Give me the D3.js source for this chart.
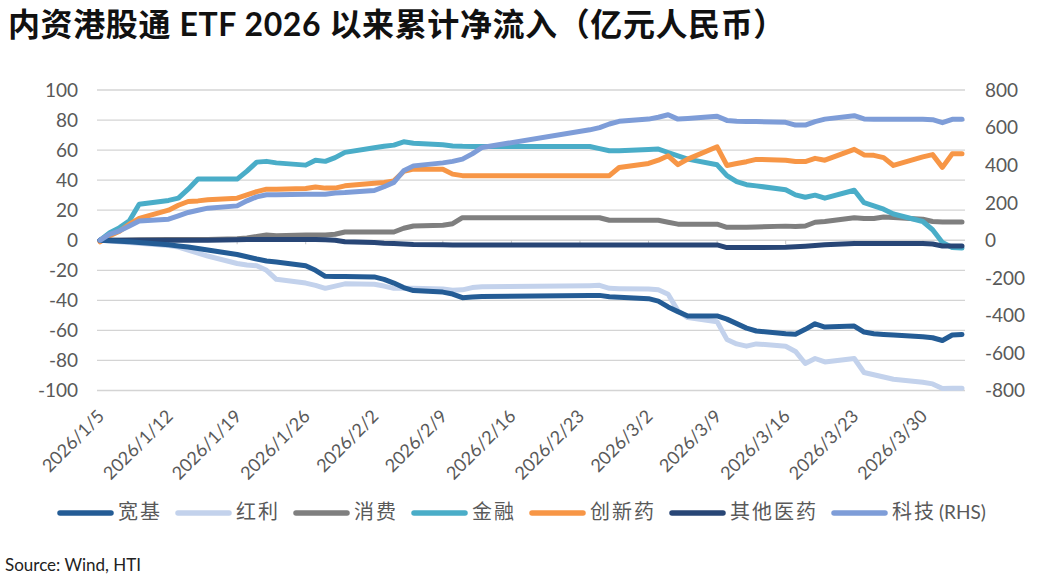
<!DOCTYPE html>
<html>
<head>
<meta charset="utf-8">
<script src="https://cdn.jsdelivr.net/npm/d3@7"></script>
<style>
body { margin: 0; background: #fff; }
text { font-family: Lato, "Noto Sans CJK SC", sans-serif; }
</style>
</head>
<body>
<script>
// trading days (mainland), 2026
var dates = [
  "2026-01-05","2026-01-06","2026-01-07","2026-01-08","2026-01-09",
  "2026-01-12","2026-01-13","2026-01-14","2026-01-15","2026-01-16",
  "2026-01-19","2026-01-20","2026-01-21","2026-01-22","2026-01-23",
  "2026-01-26","2026-01-27","2026-01-28","2026-01-29","2026-01-30",
  "2026-02-02","2026-02-03","2026-02-04","2026-02-05","2026-02-06",
  "2026-02-09","2026-02-10","2026-02-11","2026-02-12","2026-02-13",
  "2026-02-24","2026-02-25","2026-02-26","2026-02-27",
  "2026-03-02","2026-03-03","2026-03-04","2026-03-05","2026-03-06",
  "2026-03-09","2026-03-10","2026-03-11","2026-03-12","2026-03-13",
  "2026-03-16","2026-03-17","2026-03-18","2026-03-19","2026-03-20",
  "2026-03-23","2026-03-24","2026-03-25","2026-03-26","2026-03-27",
  "2026-03-30","2026-03-31","2026-04-01","2026-04-02","2026-04-03"
];

var kuanji = [0,-0.3,-0.7,-1,-1.5, -3,-3.8,-4.5,-5.5,-6.5, -9.5,-11,-12.5,-13.8,-14.5, -17,-20,-24,-24.2,-24.2,
  -24.4,-26,-28.5,-31.5,-33.5, -34.5,-35.8,-38.2,-37.8,-37.5, -36.7,-36.7,-37.6,-38,
  -38.9,-40.5,-44.4,-47.5,-50.4, -50.4,-52.5,-55.5,-58.5,-60.4, -62.2,-62.5,-59.3,-55.6,-57.8,
  -57.1,-61.1,-62.2,-62.7,-63.1, -64.2,-64.9,-66.7,-63.1,-62.7];

var hongli = [0,-0.5,-1,-1.5,-2, -3.5,-4.5,-6.5,-8.5,-10.5, -15.5,-16.5,-17,-20,-26, -28.5,-30,-32,-30.5,-29,
  -29.3,-30.5,-32,-32,-32, -32.5,-33.3,-33,-31.5,-30.9, -30.2,-30,-32,-32.2,
  -32.4,-33,-36,-47,-51.5, -54.2,-66,-69,-70.5,-69, -70.5,-74,-82,-78.7,-81,
  -78.7,-88,-89.5,-91,-92.5, -94.5,-95.6,-98.7,-98.5,-98.5];

var xiaofei = [0,0,0,0.2,0.3, 0.5,0.5,0.5,0.5,0.5, 1,1.5,2.5,3.5,3, 3.5,3.5,3.5,4,5.5,
  5.5,5.5,5.5,8,9.5, 10,11,15,15,15, 15,15,13.3,13.3,
  13.3,13.3,12,10.7,10.7, 10.7,8.6,8.6,8.6,8.8, 9.4,9.1,9.5,12,12.5,
  15,14.5,14.5,15.5,15.2, 14,12.5,12.2,12.2,12.2];

var jinrong = [0,5,8.4,13,24, 26.5,28,34,40.7,40.7, 40.7,46,52,52.5,51.5, 50,53.3,52.5,55,58.5,
  61.5,62.5,63.3,65.5,64.5, 63.5,62.8,62.5,62.4,62.4, 62.4,61,59.6,59.6,
  60.4,60.7,58.4,56.2,54, 50.2,43,39,37,36.2, 33.6,30.2,28.6,30,28,
  33.3,25,22.9,20.7,17.5, 12.5,7,-1.5,-4.8,-5.2];

var chuangxin = [-1,3,6,10.7,14.5, 20,23.3,25.8,26.2,26.9, 28,30.2,32.4,34,34, 34.4,35.5,34.7,34.7,36.2,
  38,38.5,39.5,45.8,47.3, 47.3,44,43,43,43, 43,43,43,48.4,
  51.1,53.3,56.2,50.3,54, 62.2,49.8,51.1,52.3,53.8, 53.3,52.4,52.4,54.5,53.3,
  60.5,56.8,56.5,55,49.8, 55.5,57,48.5,57.5,57.5];

var qita = [0,0,0,0,0, 0,0,0,0,0, 0.3,0.5,0.5,0.5,0.5, 0.5,0.5,0.3,0,-1,
  -1.5,-2,-2.2,-2.5,-2.8, -3,-3.1,-3.1,-3.1,-3.1, -3.1,-3.1,-3.1,-3.1,
  -3.1,-3.1,-3.1,-3.1,-3.1, -3.1,-4.9,-4.9,-4.9,-4.9, -4.7,-4.4,-4,-3.5,-3,
  -2.2,-2.2,-2.2,-2.2,-2.2, -2.2,-2.5,-3.8,-3.8,-3.8];

// RHS series
var keji = [0,32,50,76,103, 112,130,148,160,171, 183,210,231,242,242, 245,245,245,252,254,
  265,285,308,370,396, 412,420,432,460,494, 588,600,619,633,
  645,655,668,645,648, 660,638,634,632,632, 628,613,613,632,645,
  663,646,644,644,644, 644,642,626,644,644];

var seriesNames = ["宽基","红利","消费","金融","创新药","其他医药","科技"];
var seriesSuffix = ["","","","","","","(RHS)"];
var seriesColors = ["#245c95","#c3d2ec","#7f7f7f","#4aadc8","#f79646","#284676","#7e9dd8"];
var seriesValues = [kuanji, hongli, xiaofei, jinrong, chuangxin, qita, keji];
var seriesRight = [false,false,false,false,false,false,true];
// draw order (last on top)
var drawOrder = [1, 2, 3, 4, 5, 0, 6];

var leftTicks = [-100,-80,-60,-40,-20,0,20,40,60,80,100];
var rightTicks = [-800,-600,-400,-200,0,200,400,600,800];
var xTickStart = "2026-01-05", xTickEnd = "2026-03-30", xTickStepDays = 7;

var titleText = "内资港股通 ETF 2026 以来累计净流入（亿元人民币）";
var sourceText = "Source: Wind, HTI";

var width = 1038, height = 584;
var parse = d3.timeParse("%Y-%m-%d");
var fmt = d3.timeFormat("%Y/%-m/%-d");

var svg = d3.select("body").append("svg")
    .attr("width", width)
    .attr("height", height)
    .style("background", "#fff");

// title
svg.append("text")
    .attr("x", 8)
    .attr("y", 36)
    .attr("font-size", 32)
    .attr("font-weight", 700)
    .attr("letter-spacing", 0.6)
    .attr("fill", "#111")
    .text(titleText);

var x = d3.scaleTime()
    .domain([parse(dates[0]), parse(dates[dates.length - 1])])
    .range([100, 962]);
var yL = d3.scaleLinear().domain([-100, 100]).range([390.5, 90]);
var yR = d3.scaleLinear().domain([-800, 800]).range([390.5, 90]);

// gridlines
svg.append("g").selectAll("line")
    .data(leftTicks)
    .join("line")
    .attr("x1", 97).attr("x2", 965)
    .attr("y1", d => yL(d)).attr("y2", d => yL(d))
    .attr("stroke", "#d4d4d4")
    .attr("stroke-width", 1.3);

// left axis labels
svg.append("g").selectAll("text")
    .data(leftTicks)
    .join("text")
    .attr("x", 78)
    .attr("y", d => yL(d))
    .attr("dy", "0.36em")
    .attr("text-anchor", "end")
    .attr("font-size", 19)
    .attr("fill", "#595959")
    .text(d => d);

// right axis labels
svg.append("g").selectAll("text")
    .data(rightTicks)
    .join("text")
    .attr("x", 985)
    .attr("y", d => yR(d))
    .attr("dy", "0.36em")
    .attr("text-anchor", "start")
    .attr("font-size", 19)
    .attr("fill", "#595959")
    .text(d => d);

// x ticks, weekly from the first day
var xTicks = d3.timeDay.range(parse(xTickStart), d3.timeDay.offset(parse(xTickEnd), 1))
    .filter((d, i) => i % xTickStepDays === 0);

svg.append("g").selectAll("line")
    .data(xTicks)
    .join("line")
    .attr("x1", d => x(d)).attr("x2", d => x(d))
    .attr("y1", yL(0)).attr("y2", yL(0) + 4)
    .attr("stroke", "#c8c8c8");

svg.append("g").selectAll("text")
    .data(xTicks)
    .join("text")
    .attr("transform", d => "translate(" + (x(d) + 1) + ",413) rotate(-45)")
    .attr("dy", "0.35em")
    .attr("text-anchor", "end")
    .attr("font-size", 18)
    .attr("fill", "#595959")
    .text(d => fmt(d));

// lines
var parsedDates = dates.map(parse);
drawOrder.forEach(function(i) {
  var yScale = seriesRight[i] ? yR : yL;
  var line = d3.line()
      .x((d, j) => x(parsedDates[j]))
      .y(d => yScale(d));
  svg.append("path")
      .datum(seriesValues[i])
      .attr("d", line)
      .attr("fill", "none")
      .attr("stroke", seriesColors[i])
      .attr("stroke-width", 5)
      .attr("stroke-linejoin", "round")
      .attr("stroke-linecap", "round");
});

// legend
var legend = svg.append("g");
var lx = 57, ly = 513;
seriesNames.forEach(function(name, i) {
  legend.append("line")
      .attr("x1", lx + 3).attr("x2", lx + 54)
      .attr("y1", ly).attr("y2", ly)
      .attr("stroke", seriesColors[i])
      .attr("stroke-width", 5.5)
      .attr("stroke-linecap", "round");
  var t = legend.append("text")
      .attr("x", lx + 61)
      .attr("y", ly)
      .attr("dy", "0.36em")
      .attr("fill", "#595959");
  t.append("tspan")
      .attr("font-size", 20)
      .attr("letter-spacing", 2)
      .text(name);
  if (seriesSuffix[i]) {
    t.append("tspan")
        .attr("font-size", 19)
        .attr("dx", 3)
        .text(seriesSuffix[i]);
  }
  lx += 61 + t.node().getComputedTextLength() + 13;
});

// source
svg.append("text")
    .attr("x", 5)
    .attr("y", 571)
    .attr("font-size", 17)
    .attr("fill", "#222")
    .text(sourceText);
</script>
</body>
</html>
